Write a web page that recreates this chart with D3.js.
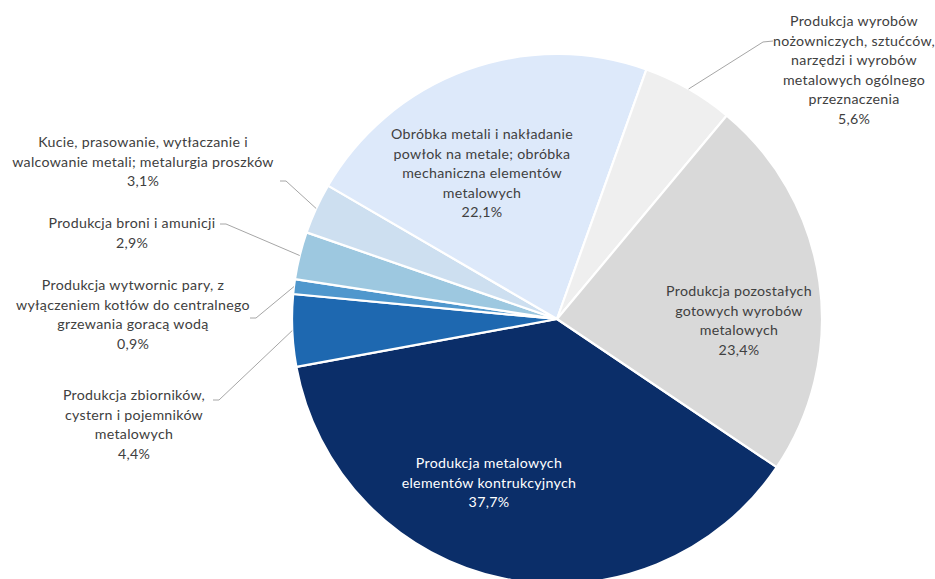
<!DOCTYPE html>
<html><head><meta charset="utf-8">
<script src="https://cdn.jsdelivr.net/npm/d3@7/dist/d3.min.js"></script>
<style>body{margin:0;background:#fff}svg{display:block}</style>
</head><body>
<svg id="c" width="935" height="579"></svg>
<script>
const categories = [
  "Produkcja metalowych elementów kontrukcyjnych",
  "Produkcja zbiorników, cystern i pojemników metalowych",
  "Produkcja wytwornic pary, z wyłączeniem kotłów do centralnego grzewania goracą wodą",
  "Produkcja broni i amunicji",
  "Kucie, prasowanie, wytłaczanie i walcowanie metali; metalurgia proszków",
  "Obróbka metali i nakładanie powłok na metale; obróbka mechaniczna elementów metalowych",
  "Produkcja wyrobów nożowniczych, sztućców, narzędzi i wyrobów metalowych ogólnego przeznaczenia",
  "Produkcja pozostałych gotowych wyrobów metalowych"
];
const values = [37.7, 4.4, 0.9, 2.9, 3.1, 22.1, 5.6, 23.4];
const labelLines = [
  ["Produkcja metalowych", "elementów kontrukcyjnych"],
  ["Produkcja zbiorników,", "cystern i pojemników", "metalowych"],
  ["Produkcja wytwornic pary, z", "wyłączeniem kotłów do centralnego", "grzewania goracą wodą"],
  ["Produkcja broni i amunicji"],
  ["Kucie, prasowanie, wytłaczanie i", "walcowanie metali; metalurgia proszków"],
  ["Obróbka metali i nakładanie", "powłok na metale; obróbka", "mechaniczna elementów", "metalowych"],
  ["Produkcja wyrobów", "nożowniczych, sztućców,", "narzędzi i wyrobów", "metalowych ogólnego", "przeznaczenia"],
  ["Produkcja pozostałych", "gotowych wyrobów", "metalowych"]
];
const colors = ["#0b2e69", "#1e68b0", "#4f97cd", "#9dc8e0", "#cddff0", "#dde9fa", "#efefef", "#d9d9d9"];

// layout (label centre x, first line centre y, text colour, leader: [labelEnd, elbow] or null)
const layout = [
  {x: 489, y: 463, fill: "#ffffff", leader: null},
  {x: 134, y: 395, fill: "#404040", leader: [[213, 400], [219, 400]]},
  {x: 133, y: 285, fill: "#404040", leader: [[250, 318], [256, 318]]},
  {x: 132, y: 223, fill: "#404040", leader: [[220, 224], [226, 224]]},
  {x: 143, y: 142, fill: "#404040", leader: [[280, 181], [286, 181]]},
  {x: 482, y: 134, fill: "#404040", leader: null},
  {x: 854, y: 21, fill: "#404040", leader: [[773, 41], [763, 42]]},
  {x: 739, y: 291, fill: "#404040", leader: null}
];

const svg = d3.select("#c");
const cx = 557, cy = 319, R = 265;
const startDeg = 124;
const pie = d3.pie().sort(null).value(d => d)
  .startAngle(startDeg * Math.PI / 180)
  .endAngle(startDeg * Math.PI / 180 + 2 * Math.PI);
const arcs = pie(values);
const arc = d3.arc().innerRadius(0).outerRadius(R);
const g = svg.append("g").attr("transform", `translate(${cx},${cy})`);
g.selectAll("path.slice").data(arcs).enter().append("path")
  .attr("class", "slice")
  .attr("d", arc)
  .attr("fill", (d, i) => colors[i])
  .attr("stroke", "#ffffff").attr("stroke-width", 2.2).attr("stroke-linejoin", "round");

const fmt = v => d3.format(".1f")(v).replace(".", ",") + "%";
const lineH = 19.6;
const font = "Lato, 'Open Sans', sans-serif";

// leader lines
arcs.forEach((a, i) => {
  const L = layout[i];
  if (!L.leader) return;
  const mid = (a.startAngle + a.endAngle) / 2;
  const px = cx + R * Math.sin(mid), py = cy - R * Math.cos(mid);
  const pts = [L.leader[0], L.leader[1], [px, py]];
  svg.append("path").attr("d", d3.line()(pts))
    .attr("fill", "none").attr("stroke", "#a6a6a6").attr("stroke-width", 1);
});

// labels
arcs.forEach((a, i) => {
  const L = layout[i];
  const lines = labelLines[i].concat([fmt(values[i])]);
  const t = svg.append("text")
    .attr("text-anchor", "middle")
    .attr("font-family", font).attr("font-size", 14.2)
    .attr("letter-spacing", "0.3px")
    .attr("fill", L.fill);
  lines.forEach((s, k) => {
    t.append("tspan").attr("x", L.x).attr("y", L.y + k * lineH)
      .attr("dy", "0.35em").text(s);
  });
});
</script>
</body></html>
